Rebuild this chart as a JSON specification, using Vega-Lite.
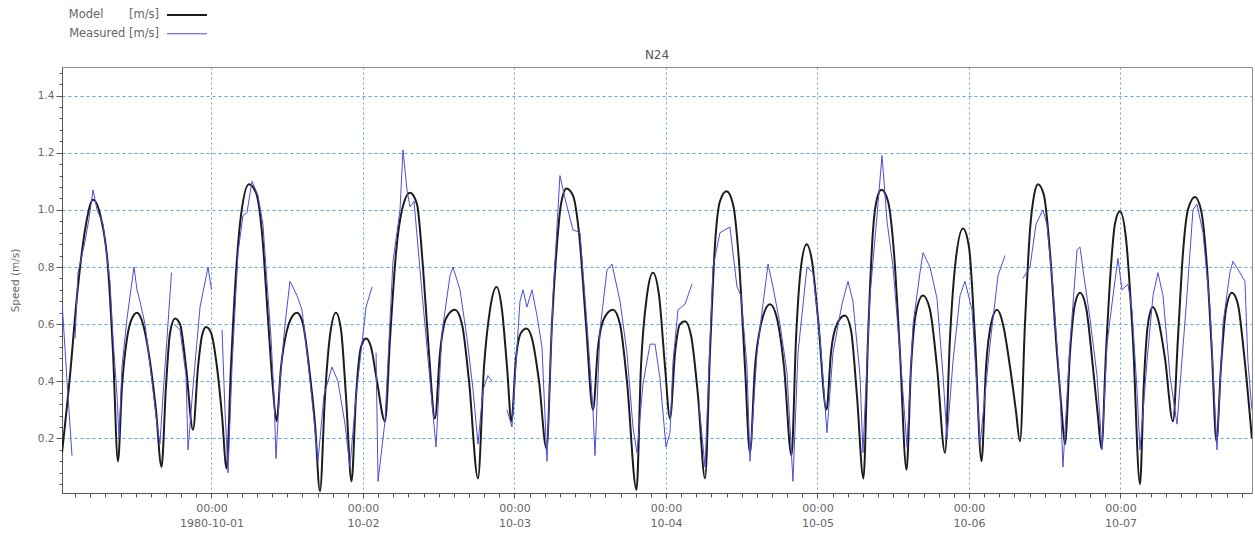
{
"$schema": "https://vega.github.io/schema/vega-lite/v6.json",
"width": 1190, "height": 426,
"autosize": "none",
"padding": {"left": 62, "top": 67, "right": 3, "bottom": 51},
"background": "white",
"config": {"view": {"stroke": "#8c8c8c", "strokeWidth": 1}, "font": "DejaVu Sans"},
"title": {"text": "N24", "fontSize": 12, "fontWeight": "normal", "color": "#555", "font": "DejaVu Sans", "offset": 7, "dy": 60, "frame": "group", "anchor": "middle"},
"data": {"values": [
{"t":"1980-09-30T00:19","v":0.15,"s":"Model","g":"M"},
{"t":"1980-09-30T01:35","v":0.42,"s":"Model","g":"M"},
{"t":"1980-09-30T02:42","v":0.70,"s":"Model","g":"M"},
{"t":"1980-09-30T03:58","v":0.93,"s":"Model","g":"M"},
{"t":"1980-09-30T05:14","v":1.035,"s":"Model","g":"M"},
{"t":"1980-09-30T06:30","v":0.97,"s":"Model","g":"M"},
{"t":"1980-09-30T07:36","v":0.80,"s":"Model","g":"M"},
{"t":"1980-09-30T08:24","v":0.50,"s":"Model","g":"M"},
{"t":"1980-09-30T09:11","v":0.12,"s":"Model","g":"M"},
{"t":"1980-09-30T09:49","v":0.38,"s":"Model","g":"M"},
{"t":"1980-09-30T10:37","v":0.55,"s":"Model","g":"M"},
{"t":"1980-09-30T11:24","v":0.62,"s":"Model","g":"M"},
{"t":"1980-09-30T12:12","v":0.64,"s":"Model","g":"M"},
{"t":"1980-09-30T13:09","v":0.60,"s":"Model","g":"M"},
{"t":"1980-09-30T14:15","v":0.47,"s":"Model","g":"M"},
{"t":"1980-09-30T15:12","v":0.30,"s":"Model","g":"M"},
{"t":"1980-09-30T16:05","v":0.10,"s":"Model","g":"M"},
{"t":"1980-09-30T16:47","v":0.38,"s":"Model","g":"M"},
{"t":"1980-09-30T17:26","v":0.57,"s":"Model","g":"M"},
{"t":"1980-09-30T18:13","v":0.62,"s":"Model","g":"M"},
{"t":"1980-09-30T19:01","v":0.60,"s":"Model","g":"M"},
{"t":"1980-09-30T19:58","v":0.45,"s":"Model","g":"M"},
{"t":"1980-09-30T21:04","v":0.23,"s":"Model","g":"M"},
{"t":"1980-09-30T21:52","v":0.45,"s":"Model","g":"M"},
{"t":"1980-09-30T22:30","v":0.56,"s":"Model","g":"M"},
{"t":"1980-09-30T23:08","v":0.59,"s":"Model","g":"M"},
{"t":"1980-09-30T23:55","v":0.57,"s":"Model","g":"M"},
{"t":"1980-10-01T00:52","v":0.45,"s":"Model","g":"M"},
{"t":"1980-10-01T01:40","v":0.28,"s":"Model","g":"M"},
{"t":"1980-10-01T02:23","v":0.095,"s":"Model","g":"M"},
{"t":"1980-10-01T03:05","v":0.45,"s":"Model","g":"M"},
{"t":"1980-10-01T03:53","v":0.78,"s":"Model","g":"M"},
{"t":"1980-10-01T04:40","v":0.98,"s":"Model","g":"M"},
{"t":"1980-10-01T05:56","v":1.09,"s":"Model","g":"M"},
{"t":"1980-10-01T07:03","v":1.06,"s":"Model","g":"M"},
{"t":"1980-10-01T08:00","v":0.92,"s":"Model","g":"M"},
{"t":"1980-10-01T08:57","v":0.62,"s":"Model","g":"M"},
{"t":"1980-10-01T09:45","v":0.37,"s":"Model","g":"M"},
{"t":"1980-10-01T10:18","v":0.26,"s":"Model","g":"M"},
{"t":"1980-10-01T11:01","v":0.45,"s":"Model","g":"M"},
{"t":"1980-10-01T11:58","v":0.58,"s":"Model","g":"M"},
{"t":"1980-10-01T12:36","v":0.62,"s":"Model","g":"M"},
{"t":"1980-10-01T13:33","v":0.64,"s":"Model","g":"M"},
{"t":"1980-10-01T14:30","v":0.60,"s":"Model","g":"M"},
{"t":"1980-10-01T15:27","v":0.45,"s":"Model","g":"M"},
{"t":"1980-10-01T16:24","v":0.25,"s":"Model","g":"M"},
{"t":"1980-10-01T17:11","v":0.015,"s":"Model","g":"M"},
{"t":"1980-10-01T17:59","v":0.35,"s":"Model","g":"M"},
{"t":"1980-10-01T18:46","v":0.56,"s":"Model","g":"M"},
{"t":"1980-10-01T19:43","v":0.64,"s":"Model","g":"M"},
{"t":"1980-10-01T20:31","v":0.58,"s":"Model","g":"M"},
{"t":"1980-10-01T21:18","v":0.35,"s":"Model","g":"M"},
{"t":"1980-10-01T22:11","v":0.05,"s":"Model","g":"M"},
{"t":"1980-10-01T22:54","v":0.35,"s":"Model","g":"M"},
{"t":"1980-10-01T23:41","v":0.52,"s":"Model","g":"M"},
{"t":"1980-10-02T00:29","v":0.55,"s":"Model","g":"M"},
{"t":"1980-10-02T01:16","v":0.52,"s":"Model","g":"M"},
{"t":"1980-10-02T02:13","v":0.40,"s":"Model","g":"M"},
{"t":"1980-10-02T03:29","v":0.26,"s":"Model","g":"M"},
{"t":"1980-10-02T04:17","v":0.55,"s":"Model","g":"M"},
{"t":"1980-10-02T05:14","v":0.85,"s":"Model","g":"M"},
{"t":"1980-10-02T06:11","v":1.00,"s":"Model","g":"M"},
{"t":"1980-10-02T07:27","v":1.06,"s":"Model","g":"M"},
{"t":"1980-10-02T08:33","v":1.02,"s":"Model","g":"M"},
{"t":"1980-10-02T09:30","v":0.80,"s":"Model","g":"M"},
{"t":"1980-10-02T10:27","v":0.50,"s":"Model","g":"M"},
{"t":"1980-10-02T11:24","v":0.27,"s":"Model","g":"M"},
{"t":"1980-10-02T12:12","v":0.50,"s":"Model","g":"M"},
{"t":"1980-10-02T13:09","v":0.62,"s":"Model","g":"M"},
{"t":"1980-10-02T14:34","v":0.65,"s":"Model","g":"M"},
{"t":"1980-10-02T15:41","v":0.60,"s":"Model","g":"M"},
{"t":"1980-10-02T16:48","v":0.40,"s":"Model","g":"M"},
{"t":"1980-10-02T18:13","v":0.06,"s":"Model","g":"M"},
{"t":"1980-10-02T19:10","v":0.45,"s":"Model","g":"M"},
{"t":"1980-10-02T20:07","v":0.65,"s":"Model","g":"M"},
{"t":"1980-10-02T21:09","v":0.73,"s":"Model","g":"M"},
{"t":"1980-10-02T22:01","v":0.65,"s":"Model","g":"M"},
{"t":"1980-10-02T22:49","v":0.45,"s":"Model","g":"M"},
{"t":"1980-10-02T23:31","v":0.26,"s":"Model","g":"M"},
{"t":"1980-10-03T00:14","v":0.48,"s":"Model","g":"M"},
{"t":"1980-10-03T01:02","v":0.57,"s":"Model","g":"M"},
{"t":"1980-10-03T01:54","v":0.585,"s":"Model","g":"M"},
{"t":"1980-10-03T02:46","v":0.55,"s":"Model","g":"M"},
{"t":"1980-10-03T03:53","v":0.40,"s":"Model","g":"M"},
{"t":"1980-10-03T05:04","v":0.165,"s":"Model","g":"M"},
{"t":"1980-10-03T05:56","v":0.60,"s":"Model","g":"M"},
{"t":"1980-10-03T06:44","v":0.88,"s":"Model","g":"M"},
{"t":"1980-10-03T07:22","v":1.02,"s":"Model","g":"M"},
{"t":"1980-10-03T08:14","v":1.075,"s":"Model","g":"M"},
{"t":"1980-10-03T09:16","v":1.05,"s":"Model","g":"M"},
{"t":"1980-10-03T10:13","v":0.92,"s":"Model","g":"M"},
{"t":"1980-10-03T11:20","v":0.60,"s":"Model","g":"M"},
{"t":"1980-10-03T12:26","v":0.30,"s":"Model","g":"M"},
{"t":"1980-10-03T13:14","v":0.52,"s":"Model","g":"M"},
{"t":"1980-10-03T14:11","v":0.62,"s":"Model","g":"M"},
{"t":"1980-10-03T15:36","v":0.65,"s":"Model","g":"M"},
{"t":"1980-10-03T16:43","v":0.60,"s":"Model","g":"M"},
{"t":"1980-10-03T17:49","v":0.40,"s":"Model","g":"M"},
{"t":"1980-10-03T19:20","v":0.02,"s":"Model","g":"M"},
{"t":"1980-10-03T20:02","v":0.45,"s":"Model","g":"M"},
{"t":"1980-10-03T20:59","v":0.70,"s":"Model","g":"M"},
{"t":"1980-10-03T21:56","v":0.78,"s":"Model","g":"M"},
{"t":"1980-10-03T22:54","v":0.70,"s":"Model","g":"M"},
{"t":"1980-10-03T23:51","v":0.45,"s":"Model","g":"M"},
{"t":"1980-10-04T00:38","v":0.27,"s":"Model","g":"M"},
{"t":"1980-10-04T01:26","v":0.50,"s":"Model","g":"M"},
{"t":"1980-10-04T02:13","v":0.60,"s":"Model","g":"M"},
{"t":"1980-10-04T03:01","v":0.61,"s":"Model","g":"M"},
{"t":"1980-10-04T03:58","v":0.56,"s":"Model","g":"M"},
{"t":"1980-10-04T05:04","v":0.35,"s":"Model","g":"M"},
{"t":"1980-10-04T06:11","v":0.06,"s":"Model","g":"M"},
{"t":"1980-10-04T06:58","v":0.50,"s":"Model","g":"M"},
{"t":"1980-10-04T07:46","v":0.88,"s":"Model","g":"M"},
{"t":"1980-10-04T08:33","v":1.03,"s":"Model","g":"M"},
{"t":"1980-10-04T09:35","v":1.065,"s":"Model","g":"M"},
{"t":"1980-10-04T10:37","v":1.02,"s":"Model","g":"M"},
{"t":"1980-10-04T11:34","v":0.82,"s":"Model","g":"M"},
{"t":"1980-10-04T12:31","v":0.45,"s":"Model","g":"M"},
{"t":"1980-10-04T13:18","v":0.15,"s":"Model","g":"M"},
{"t":"1980-10-04T14:06","v":0.45,"s":"Model","g":"M"},
{"t":"1980-10-04T15:03","v":0.60,"s":"Model","g":"M"},
{"t":"1980-10-04T16:29","v":0.67,"s":"Model","g":"M"},
{"t":"1980-10-04T17:35","v":0.62,"s":"Model","g":"M"},
{"t":"1980-10-04T18:42","v":0.45,"s":"Model","g":"M"},
{"t":"1980-10-04T19:53","v":0.14,"s":"Model","g":"M"},
{"t":"1980-10-04T20:36","v":0.55,"s":"Model","g":"M"},
{"t":"1980-10-04T21:23","v":0.80,"s":"Model","g":"M"},
{"t":"1980-10-04T22:16","v":0.88,"s":"Model","g":"M"},
{"t":"1980-10-04T23:08","v":0.82,"s":"Model","g":"M"},
{"t":"1980-10-05T00:05","v":0.62,"s":"Model","g":"M"},
{"t":"1980-10-05T01:26","v":0.30,"s":"Model","g":"M"},
{"t":"1980-10-05T02:08","v":0.50,"s":"Model","g":"M"},
{"t":"1980-10-05T03:05","v":0.60,"s":"Model","g":"M"},
{"t":"1980-10-05T04:21","v":0.63,"s":"Model","g":"M"},
{"t":"1980-10-05T05:18","v":0.58,"s":"Model","g":"M"},
{"t":"1980-10-05T06:15","v":0.35,"s":"Model","g":"M"},
{"t":"1980-10-05T07:17","v":0.06,"s":"Model","g":"M"},
{"t":"1980-10-05T08:00","v":0.55,"s":"Model","g":"M"},
{"t":"1980-10-05T08:48","v":0.93,"s":"Model","g":"M"},
{"t":"1980-10-05T09:26","v":1.04,"s":"Model","g":"M"},
{"t":"1980-10-05T10:08","v":1.07,"s":"Model","g":"M"},
{"t":"1980-10-05T11:10","v":1.03,"s":"Model","g":"M"},
{"t":"1980-10-05T12:07","v":0.85,"s":"Model","g":"M"},
{"t":"1980-10-05T13:04","v":0.50,"s":"Model","g":"M"},
{"t":"1980-10-05T14:06","v":0.09,"s":"Model","g":"M"},
{"t":"1980-10-05T14:49","v":0.45,"s":"Model","g":"M"},
{"t":"1980-10-05T15:36","v":0.64,"s":"Model","g":"M"},
{"t":"1980-10-05T16:43","v":0.70,"s":"Model","g":"M"},
{"t":"1980-10-05T17:49","v":0.65,"s":"Model","g":"M"},
{"t":"1980-10-05T18:56","v":0.45,"s":"Model","g":"M"},
{"t":"1980-10-05T20:12","v":0.15,"s":"Model","g":"M"},
{"t":"1980-10-05T20:59","v":0.55,"s":"Model","g":"M"},
{"t":"1980-10-05T21:47","v":0.80,"s":"Model","g":"M"},
{"t":"1980-10-05T23:03","v":0.935,"s":"Model","g":"M"},
{"t":"1980-10-06T00:00","v":0.87,"s":"Model","g":"M"},
{"t":"1980-10-06T00:57","v":0.55,"s":"Model","g":"M"},
{"t":"1980-10-06T01:59","v":0.12,"s":"Model","g":"M"},
{"t":"1980-10-06T02:42","v":0.45,"s":"Model","g":"M"},
{"t":"1980-10-06T03:29","v":0.60,"s":"Model","g":"M"},
{"t":"1980-10-06T04:26","v":0.65,"s":"Model","g":"M"},
{"t":"1980-10-06T05:23","v":0.60,"s":"Model","g":"M"},
{"t":"1980-10-06T06:30","v":0.45,"s":"Model","g":"M"},
{"t":"1980-10-06T07:25","v":0.30,"s":"Model","g":"M"},
{"t":"1980-10-06T08:05","v":0.19,"s":"Model","g":"M"},
{"t":"1980-10-06T08:52","v":0.60,"s":"Model","g":"M"},
{"t":"1980-10-06T09:40","v":0.93,"s":"Model","g":"M"},
{"t":"1980-10-06T10:18","v":1.05,"s":"Model","g":"M"},
{"t":"1980-10-06T10:56","v":1.09,"s":"Model","g":"M"},
{"t":"1980-10-06T11:53","v":1.05,"s":"Model","g":"M"},
{"t":"1980-10-06T12:50","v":0.85,"s":"Model","g":"M"},
{"t":"1980-10-06T13:56","v":0.50,"s":"Model","g":"M"},
{"t":"1980-10-06T14:40","v":0.30,"s":"Model","g":"M"},
{"t":"1980-10-06T15:12","v":0.18,"s":"Model","g":"M"},
{"t":"1980-10-06T16:00","v":0.50,"s":"Model","g":"M"},
{"t":"1980-10-06T16:47","v":0.67,"s":"Model","g":"M"},
{"t":"1980-10-06T17:35","v":0.71,"s":"Model","g":"M"},
{"t":"1980-10-06T18:32","v":0.66,"s":"Model","g":"M"},
{"t":"1980-10-06T19:38","v":0.45,"s":"Model","g":"M"},
{"t":"1980-10-06T20:25","v":0.28,"s":"Model","g":"M"},
{"t":"1980-10-06T20:59","v":0.165,"s":"Model","g":"M"},
{"t":"1980-10-06T21:42","v":0.50,"s":"Model","g":"M"},
{"t":"1980-10-06T22:29","v":0.80,"s":"Model","g":"M"},
{"t":"1980-10-06T23:07","v":0.95,"s":"Model","g":"M"},
{"t":"1980-10-06T23:55","v":0.995,"s":"Model","g":"M"},
{"t":"1980-10-07T00:52","v":0.90,"s":"Model","g":"M"},
{"t":"1980-10-07T01:58","v":0.55,"s":"Model","g":"M"},
{"t":"1980-10-07T03:05","v":0.04,"s":"Model","g":"M"},
{"t":"1980-10-07T03:43","v":0.40,"s":"Model","g":"M"},
{"t":"1980-10-07T04:21","v":0.60,"s":"Model","g":"M"},
{"t":"1980-10-07T05:08","v":0.66,"s":"Model","g":"M"},
{"t":"1980-10-07T05:56","v":0.62,"s":"Model","g":"M"},
{"t":"1980-10-07T07:03","v":0.48,"s":"Model","g":"M"},
{"t":"1980-10-07T08:19","v":0.26,"s":"Model","g":"M"},
{"t":"1980-10-07T09:06","v":0.55,"s":"Model","g":"M"},
{"t":"1980-10-07T09:54","v":0.85,"s":"Model","g":"M"},
{"t":"1980-10-07T10:41","v":1.00,"s":"Model","g":"M"},
{"t":"1980-10-07T11:48","v":1.045,"s":"Model","g":"M"},
{"t":"1980-10-07T12:45","v":1.00,"s":"Model","g":"M"},
{"t":"1980-10-07T13:42","v":0.80,"s":"Model","g":"M"},
{"t":"1980-10-07T14:29","v":0.50,"s":"Model","g":"M"},
{"t":"1980-10-07T15:12","v":0.19,"s":"Model","g":"M"},
{"t":"1980-10-07T15:55","v":0.45,"s":"Model","g":"M"},
{"t":"1980-10-07T16:42","v":0.65,"s":"Model","g":"M"},
{"t":"1980-10-07T17:39","v":0.71,"s":"Model","g":"M"},
{"t":"1980-10-07T18:36","v":0.67,"s":"Model","g":"M"},
{"t":"1980-10-07T19:33","v":0.50,"s":"Model","g":"M"},
{"t":"1980-10-07T20:49","v":0.20,"s":"Model","g":"M"},

{"t":"1980-09-30T00:19","v":0.68,"s":"Measured","g":"B1"},
{"t":"1980-09-30T01:07","v":0.40,"s":"Measured","g":"B1"},
{"t":"1980-09-30T01:54","v":0.14,"s":"Measured","g":"B1"},
{"t":"1980-09-30T02:23","v":0.55,"s":"Measured","g":"B2"},
{"t":"1980-09-30T02:51","v":0.78,"s":"Measured","g":"B2"},
{"t":"1980-09-30T03:58","v":0.89,"s":"Measured","g":"B2"},
{"t":"1980-09-30T04:36","v":0.97,"s":"Measured","g":"B2"},
{"t":"1980-09-30T05:14","v":1.07,"s":"Measured","g":"B2"},
{"t":"1980-09-30T05:52","v":1.00,"s":"Measured","g":"B2"},
{"t":"1980-09-30T06:49","v":0.95,"s":"Measured","g":"B2"},
{"t":"1980-09-30T07:55","v":0.75,"s":"Measured","g":"B2"},
{"t":"1980-09-30T08:24","v":0.55,"s":"Measured","g":"B2"},
{"t":"1980-09-30T09:02","v":0.35,"s":"Measured","g":"B2"},
{"t":"1980-09-30T09:21","v":0.20,"s":"Measured","g":"B2"},
{"t":"1980-09-30T09:49","v":0.45,"s":"Measured","g":"B2"},
{"t":"1980-09-30T10:37","v":0.62,"s":"Measured","g":"B2"},
{"t":"1980-09-30T11:43","v":0.80,"s":"Measured","g":"B2"},
{"t":"1980-09-30T12:12","v":0.72,"s":"Measured","g":"B2"},
{"t":"1980-09-30T12:40","v":0.68,"s":"Measured","g":"B2"},
{"t":"1980-09-30T13:28","v":0.60,"s":"Measured","g":"B2"},
{"t":"1980-09-30T14:34","v":0.40,"s":"Measured","g":"B2"},
{"t":"1980-09-30T15:22","v":0.25,"s":"Measured","g":"B2"},
{"t":"1980-09-30T15:50","v":0.18,"s":"Measured","g":"B2"},
{"t":"1980-09-30T16:19","v":0.35,"s":"Measured","g":"B2"},
{"t":"1980-09-30T16:57","v":0.55,"s":"Measured","g":"B2"},
{"t":"1980-09-30T17:40","v":0.78,"s":"Measured","g":"B2"},
{"t":"1980-09-30T18:04","v":0.60,"s":"Measured","g":"B3"},
{"t":"1980-09-30T19:01","v":0.58,"s":"Measured","g":"B3"},
{"t":"1980-09-30T19:58","v":0.42,"s":"Measured","g":"B3"},
{"t":"1980-09-30T20:17","v":0.16,"s":"Measured","g":"B3"},
{"t":"1980-09-30T21:04","v":0.38,"s":"Measured","g":"B3"},
{"t":"1980-09-30T22:11","v":0.66,"s":"Measured","g":"B3"},
{"t":"1980-09-30T23:27","v":0.80,"s":"Measured","g":"B3"},
{"t":"1980-10-01T00:00","v":0.72,"s":"Measured","g":"B3"},
{"t":"1980-10-01T01:40","v":0.58,"s":"Measured","g":"B4"},
{"t":"1980-10-01T02:08","v":0.30,"s":"Measured","g":"B4"},
{"t":"1980-10-01T02:37","v":0.08,"s":"Measured","g":"B4"},
{"t":"1980-10-01T03:15","v":0.45,"s":"Measured","g":"B4"},
{"t":"1980-10-01T04:12","v":0.85,"s":"Measured","g":"B4"},
{"t":"1980-10-01T04:59","v":0.98,"s":"Measured","g":"B4"},
{"t":"1980-10-01T05:37","v":0.99,"s":"Measured","g":"B4"},
{"t":"1980-10-01T06:25","v":1.10,"s":"Measured","g":"B4"},
{"t":"1980-10-01T07:22","v":1.05,"s":"Measured","g":"B4"},
{"t":"1980-10-01T08:09","v":0.95,"s":"Measured","g":"B4"},
{"t":"1980-10-01T08:47","v":0.75,"s":"Measured","g":"B4"},
{"t":"1980-10-01T09:26","v":0.55,"s":"Measured","g":"B4"},
{"t":"1980-10-01T09:54","v":0.35,"s":"Measured","g":"B4"},
{"t":"1980-10-01T10:13","v":0.13,"s":"Measured","g":"B4"},
{"t":"1980-10-01T10:51","v":0.40,"s":"Measured","g":"B4"},
{"t":"1980-10-01T11:39","v":0.60,"s":"Measured","g":"B4"},
{"t":"1980-10-01T12:26","v":0.75,"s":"Measured","g":"B4"},
{"t":"1980-10-01T13:33","v":0.70,"s":"Measured","g":"B4"},
{"t":"1980-10-01T14:20","v":0.65,"s":"Measured","g":"B4"},
{"t":"1980-10-01T15:08","v":0.50,"s":"Measured","g":"B4"},
{"t":"1980-10-01T16:05","v":0.30,"s":"Measured","g":"B4"},
{"t":"1980-10-01T16:52","v":0.12,"s":"Measured","g":"B4"},
{"t":"1980-10-01T17:49","v":0.35,"s":"Measured","g":"B4"},
{"t":"1980-10-01T19:05","v":0.45,"s":"Measured","g":"B4"},
{"t":"1980-10-01T20:02","v":0.40,"s":"Measured","g":"B4"},
{"t":"1980-10-01T21:09","v":0.25,"s":"Measured","g":"B4"},
{"t":"1980-10-01T21:56","v":0.10,"s":"Measured","g":"B4"},
{"t":"1980-10-01T22:54","v":0.35,"s":"Measured","g":"B4"},
{"t":"1980-10-01T23:31","v":0.47,"s":"Measured","g":"B4"},
{"t":"1980-10-02T00:29","v":0.66,"s":"Measured","g":"B4"},
{"t":"1980-10-02T01:26","v":0.73,"s":"Measured","g":"B4"},
{"t":"1980-10-02T02:04","v":0.50,"s":"Measured","g":"B5"},
{"t":"1980-10-02T02:23","v":0.05,"s":"Measured","g":"B5"},
{"t":"1980-10-02T03:29","v":0.26,"s":"Measured","g":"B5"},
{"t":"1980-10-02T04:45","v":0.82,"s":"Measured","g":"B5"},
{"t":"1980-10-02T05:52","v":1.00,"s":"Measured","g":"B5"},
{"t":"1980-10-02T06:20","v":1.21,"s":"Measured","g":"B5"},
{"t":"1980-10-02T06:58","v":1.07,"s":"Measured","g":"B5"},
{"t":"1980-10-02T07:27","v":1.01,"s":"Measured","g":"B5"},
{"t":"1980-10-02T08:05","v":1.03,"s":"Measured","g":"B5"},
{"t":"1980-10-02T08:43","v":0.87,"s":"Measured","g":"B5"},
{"t":"1980-10-02T09:21","v":0.71,"s":"Measured","g":"B5"},
{"t":"1980-10-02T10:08","v":0.52,"s":"Measured","g":"B5"},
{"t":"1980-10-02T11:34","v":0.17,"s":"Measured","g":"B5"},
{"t":"1980-10-02T12:31","v":0.57,"s":"Measured","g":"B5"},
{"t":"1980-10-02T13:47","v":0.77,"s":"Measured","g":"B5"},
{"t":"1980-10-02T14:15","v":0.80,"s":"Measured","g":"B5"},
{"t":"1980-10-02T15:22","v":0.72,"s":"Measured","g":"B5"},
{"t":"1980-10-02T16:29","v":0.55,"s":"Measured","g":"B5"},
{"t":"1980-10-02T17:26","v":0.37,"s":"Measured","g":"B5"},
{"t":"1980-10-02T18:13","v":0.18,"s":"Measured","g":"B5"},
{"t":"1980-10-02T19:01","v":0.37,"s":"Measured","g":"B5"},
{"t":"1980-10-02T19:48","v":0.42,"s":"Measured","g":"B5"},
{"t":"1980-10-02T20:26","v":0.40,"s":"Measured","g":"B5"},
{"t":"1980-10-02T22:49","v":0.30,"s":"Measured","g":"B6"},
{"t":"1980-10-02T23:36","v":0.24,"s":"Measured","g":"B6"},
{"t":"1980-10-03T00:24","v":0.52,"s":"Measured","g":"B6"},
{"t":"1980-10-03T00:52","v":0.68,"s":"Measured","g":"B6"},
{"t":"1980-10-03T01:21","v":0.72,"s":"Measured","g":"B6"},
{"t":"1980-10-03T01:59","v":0.66,"s":"Measured","g":"B6"},
{"t":"1980-10-03T02:46","v":0.72,"s":"Measured","g":"B6"},
{"t":"1980-10-03T03:34","v":0.63,"s":"Measured","g":"B6"},
{"t":"1980-10-03T04:21","v":0.52,"s":"Measured","g":"B6"},
{"t":"1980-10-03T05:09","v":0.12,"s":"Measured","g":"B6"},
{"t":"1980-10-03T06:06","v":0.70,"s":"Measured","g":"B6"},
{"t":"1980-10-03T07:12","v":1.12,"s":"Measured","g":"B6"},
{"t":"1980-10-03T08:00","v":1.04,"s":"Measured","g":"B6"},
{"t":"1980-10-03T09:16","v":0.93,"s":"Measured","g":"B6"},
{"t":"1980-10-03T10:23","v":0.92,"s":"Measured","g":"B6"},
{"t":"1980-10-03T11:29","v":0.60,"s":"Measured","g":"B6"},
{"t":"1980-10-03T12:26","v":0.30,"s":"Measured","g":"B6"},
{"t":"1980-10-03T12:45","v":0.14,"s":"Measured","g":"B6"},
{"t":"1980-10-03T13:33","v":0.58,"s":"Measured","g":"B6"},
{"t":"1980-10-03T14:39","v":0.79,"s":"Measured","g":"B6"},
{"t":"1980-10-03T15:27","v":0.81,"s":"Measured","g":"B6"},
{"t":"1980-10-03T16:43","v":0.68,"s":"Measured","g":"B6"},
{"t":"1980-10-03T17:49","v":0.50,"s":"Measured","g":"B6"},
{"t":"1980-10-03T18:46","v":0.24,"s":"Measured","g":"B6"},
{"t":"1980-10-03T19:24","v":0.15,"s":"Measured","g":"B6"},
{"t":"1980-10-03T20:21","v":0.39,"s":"Measured","g":"B6"},
{"t":"1980-10-03T21:28","v":0.53,"s":"Measured","g":"B6"},
{"t":"1980-10-03T22:16","v":0.53,"s":"Measured","g":"B6"},
{"t":"1980-10-03T23:03","v":0.41,"s":"Measured","g":"B6"},
{"t":"1980-10-04T00:00","v":0.17,"s":"Measured","g":"B6"},
{"t":"1980-10-04T00:38","v":0.22,"s":"Measured","g":"B6"},
{"t":"1980-10-04T01:07","v":0.47,"s":"Measured","g":"B6"},
{"t":"1980-10-04T01:54","v":0.65,"s":"Measured","g":"B6"},
{"t":"1980-10-04T03:01","v":0.67,"s":"Measured","g":"B6"},
{"t":"1980-10-04T04:07","v":0.74,"s":"Measured","g":"B6"},
{"t":"1980-10-04T05:14","v":0.32,"s":"Measured","g":"B7"},
{"t":"1980-10-04T06:11","v":0.10,"s":"Measured","g":"B7"},
{"t":"1980-10-04T07:27","v":0.80,"s":"Measured","g":"B7"},
{"t":"1980-10-04T08:33","v":0.92,"s":"Measured","g":"B7"},
{"t":"1980-10-04T10:08","v":0.94,"s":"Measured","g":"B7"},
{"t":"1980-10-04T11:15","v":0.73,"s":"Measured","g":"B7"},
{"t":"1980-10-04T11:53","v":0.70,"s":"Measured","g":"B7"},
{"t":"1980-10-04T12:50","v":0.45,"s":"Measured","g":"B7"},
{"t":"1980-10-04T13:18","v":0.12,"s":"Measured","g":"B7"},
{"t":"1980-10-04T14:25","v":0.50,"s":"Measured","g":"B7"},
{"t":"1980-10-04T15:22","v":0.67,"s":"Measured","g":"B7"},
{"t":"1980-10-04T16:10","v":0.81,"s":"Measured","g":"B7"},
{"t":"1980-10-04T16:57","v":0.73,"s":"Measured","g":"B7"},
{"t":"1980-10-04T18:04","v":0.60,"s":"Measured","g":"B7"},
{"t":"1980-10-04T19:10","v":0.43,"s":"Measured","g":"B7"},
{"t":"1980-10-04T20:07","v":0.05,"s":"Measured","g":"B7"},
{"t":"1980-10-04T20:55","v":0.50,"s":"Measured","g":"B7"},
{"t":"1980-10-04T22:20","v":0.80,"s":"Measured","g":"B7"},
{"t":"1980-10-04T23:17","v":0.78,"s":"Measured","g":"B7"},
{"t":"1980-10-05T00:24","v":0.55,"s":"Measured","g":"B7"},
{"t":"1980-10-05T01:30","v":0.22,"s":"Measured","g":"B7"},
{"t":"1980-10-05T02:27","v":0.50,"s":"Measured","g":"B7"},
{"t":"1980-10-05T03:53","v":0.67,"s":"Measured","g":"B7"},
{"t":"1980-10-05T04:50","v":0.75,"s":"Measured","g":"B7"},
{"t":"1980-10-05T05:37","v":0.68,"s":"Measured","g":"B7"},
{"t":"1980-10-05T06:44","v":0.42,"s":"Measured","g":"B7"},
{"t":"1980-10-05T07:12","v":0.15,"s":"Measured","g":"B7"},
{"t":"1980-10-05T08:19","v":0.70,"s":"Measured","g":"B7"},
{"t":"1980-10-05T09:26","v":0.98,"s":"Measured","g":"B7"},
{"t":"1980-10-05T10:13","v":1.19,"s":"Measured","g":"B7"},
{"t":"1980-10-05T11:01","v":0.96,"s":"Measured","g":"B7"},
{"t":"1980-10-05T11:58","v":0.80,"s":"Measured","g":"B7"},
{"t":"1980-10-05T13:04","v":0.50,"s":"Measured","g":"B7"},
{"t":"1980-10-05T14:11","v":0.17,"s":"Measured","g":"B7"},
{"t":"1980-10-05T15:08","v":0.60,"s":"Measured","g":"B7"},
{"t":"1980-10-05T16:14","v":0.78,"s":"Measured","g":"B7"},
{"t":"1980-10-05T16:43","v":0.85,"s":"Measured","g":"B7"},
{"t":"1980-10-05T17:49","v":0.80,"s":"Measured","g":"B7"},
{"t":"1980-10-05T18:56","v":0.69,"s":"Measured","g":"B7"},
{"t":"1980-10-05T19:53","v":0.42,"s":"Measured","g":"B7"},
{"t":"1980-10-05T20:31","v":0.20,"s":"Measured","g":"B7"},
{"t":"1980-10-05T21:28","v":0.47,"s":"Measured","g":"B7"},
{"t":"1980-10-05T22:35","v":0.70,"s":"Measured","g":"B7"},
{"t":"1980-10-05T23:22","v":0.75,"s":"Measured","g":"B7"},
{"t":"1980-10-06T00:29","v":0.65,"s":"Measured","g":"B7"},
{"t":"1980-10-06T01:16","v":0.37,"s":"Measured","g":"B7"},
{"t":"1980-10-06T01:45","v":0.18,"s":"Measured","g":"B7"},
{"t":"1980-10-06T03:20","v":0.53,"s":"Measured","g":"B7"},
{"t":"1980-10-06T04:36","v":0.77,"s":"Measured","g":"B7"},
{"t":"1980-10-06T05:42","v":0.84,"s":"Measured","g":"B7"},
{"t":"1980-10-06T08:33","v":0.76,"s":"Measured","g":"B8"},
{"t":"1980-10-06T09:40","v":0.80,"s":"Measured","g":"B8"},
{"t":"1980-10-06T10:37","v":0.95,"s":"Measured","g":"B8"},
{"t":"1980-10-06T11:43","v":1.00,"s":"Measured","g":"B8"},
{"t":"1980-10-06T12:21","v":0.95,"s":"Measured","g":"B8"},
{"t":"1980-10-06T13:18","v":0.73,"s":"Measured","g":"B8"},
{"t":"1980-10-06T14:25","v":0.37,"s":"Measured","g":"B8"},
{"t":"1980-10-06T14:53","v":0.10,"s":"Measured","g":"B8"},
{"t":"1980-10-06T16:00","v":0.53,"s":"Measured","g":"B8"},
{"t":"1980-10-06T17:07","v":0.86,"s":"Measured","g":"B8"},
{"t":"1980-10-06T17:35","v":0.87,"s":"Measured","g":"B8"},
{"t":"1980-10-06T18:04","v":0.79,"s":"Measured","g":"B8"},
{"t":"1980-10-06T19:10","v":0.62,"s":"Measured","g":"B8"},
{"t":"1980-10-06T20:17","v":0.42,"s":"Measured","g":"B8"},
{"t":"1980-10-06T21:04","v":0.16,"s":"Measured","g":"B8"},
{"t":"1980-10-06T21:52","v":0.53,"s":"Measured","g":"B8"},
{"t":"1980-10-06T22:49","v":0.70,"s":"Measured","g":"B8"},
{"t":"1980-10-06T23:36","v":0.83,"s":"Measured","g":"B8"},
{"t":"1980-10-07T00:14","v":0.72,"s":"Measured","g":"B8"},
{"t":"1980-10-07T01:11","v":0.74,"s":"Measured","g":"B8"},
{"t":"1980-10-07T01:49","v":0.65,"s":"Measured","g":"B8"},
{"t":"1980-10-07T02:37","v":0.37,"s":"Measured","g":"B8"},
{"t":"1980-10-07T03:05","v":0.16,"s":"Measured","g":"B8"},
{"t":"1980-10-07T04:12","v":0.47,"s":"Measured","g":"B8"},
{"t":"1980-10-07T05:09","v":0.70,"s":"Measured","g":"B8"},
{"t":"1980-10-07T05:56","v":0.78,"s":"Measured","g":"B8"},
{"t":"1980-10-07T06:44","v":0.70,"s":"Measured","g":"B8"},
{"t":"1980-10-07T07:50","v":0.42,"s":"Measured","g":"B8"},
{"t":"1980-10-07T08:57","v":0.25,"s":"Measured","g":"B8"},
{"t":"1980-10-07T10:32","v":0.70,"s":"Measured","g":"B8"},
{"t":"1980-10-07T11:29","v":1.00,"s":"Measured","g":"B8"},
{"t":"1980-10-07T12:07","v":1.02,"s":"Measured","g":"B8"},
{"t":"1980-10-07T13:04","v":0.92,"s":"Measured","g":"B8"},
{"t":"1980-10-07T14:10","v":0.66,"s":"Measured","g":"B8"},
{"t":"1980-10-07T15:17","v":0.16,"s":"Measured","g":"B8"},
{"t":"1980-10-07T16:14","v":0.60,"s":"Measured","g":"B8"},
{"t":"1980-10-07T17:20","v":0.78,"s":"Measured","g":"B8"},
{"t":"1980-10-07T17:49","v":0.82,"s":"Measured","g":"B8"},
{"t":"1980-10-07T18:55","v":0.78,"s":"Measured","g":"B8"},
{"t":"1980-10-07T19:43","v":0.75,"s":"Measured","g":"B8"},
{"t":"1980-10-07T20:11","v":0.47,"s":"Measured","g":"B8"},
{"t":"1980-10-07T20:49","v":0.30,"s":"Measured","g":"B8"}
]},
"encoding": {
  "x": {"field": "t", "type": "temporal",
    "scale": {"domain": [{"year":1980,"month":9,"date":30,"hours":0,"minutes":19},{"year":1980,"month":10,"date":7,"hours":20,"minutes":50}], "nice": false},
    "axis": {"title": null,
      "values": [
        {"year":1980,"month":9,"date":30,"hours":2,"minutes":24},{"year":1980,"month":9,"date":30,"hours":4,"minutes":48},{"year":1980,"month":9,"date":30,"hours":7,"minutes":12},{"year":1980,"month":9,"date":30,"hours":9,"minutes":36},{"year":1980,"month":9,"date":30,"hours":12,"minutes":0},{"year":1980,"month":9,"date":30,"hours":14,"minutes":24},{"year":1980,"month":9,"date":30,"hours":16,"minutes":48},{"year":1980,"month":9,"date":30,"hours":19,"minutes":12},{"year":1980,"month":9,"date":30,"hours":21,"minutes":36},
        {"year":1980,"month":10,"date":1,"hours":0,"minutes":0},{"year":1980,"month":10,"date":1,"hours":2,"minutes":24},{"year":1980,"month":10,"date":1,"hours":4,"minutes":48},{"year":1980,"month":10,"date":1,"hours":7,"minutes":12},{"year":1980,"month":10,"date":1,"hours":9,"minutes":36},{"year":1980,"month":10,"date":1,"hours":12,"minutes":0},{"year":1980,"month":10,"date":1,"hours":14,"minutes":24},{"year":1980,"month":10,"date":1,"hours":16,"minutes":48},{"year":1980,"month":10,"date":1,"hours":19,"minutes":12},{"year":1980,"month":10,"date":1,"hours":21,"minutes":36},
        {"year":1980,"month":10,"date":2,"hours":0,"minutes":0},{"year":1980,"month":10,"date":2,"hours":2,"minutes":24},{"year":1980,"month":10,"date":2,"hours":4,"minutes":48},{"year":1980,"month":10,"date":2,"hours":7,"minutes":12},{"year":1980,"month":10,"date":2,"hours":9,"minutes":36},{"year":1980,"month":10,"date":2,"hours":12,"minutes":0},{"year":1980,"month":10,"date":2,"hours":14,"minutes":24},{"year":1980,"month":10,"date":2,"hours":16,"minutes":48},{"year":1980,"month":10,"date":2,"hours":19,"minutes":12},{"year":1980,"month":10,"date":2,"hours":21,"minutes":36},
        {"year":1980,"month":10,"date":3,"hours":0,"minutes":0},{"year":1980,"month":10,"date":3,"hours":2,"minutes":24},{"year":1980,"month":10,"date":3,"hours":4,"minutes":48},{"year":1980,"month":10,"date":3,"hours":7,"minutes":12},{"year":1980,"month":10,"date":3,"hours":9,"minutes":36},{"year":1980,"month":10,"date":3,"hours":12,"minutes":0},{"year":1980,"month":10,"date":3,"hours":14,"minutes":24},{"year":1980,"month":10,"date":3,"hours":16,"minutes":48},{"year":1980,"month":10,"date":3,"hours":19,"minutes":12},{"year":1980,"month":10,"date":3,"hours":21,"minutes":36},
        {"year":1980,"month":10,"date":4,"hours":0,"minutes":0},{"year":1980,"month":10,"date":4,"hours":2,"minutes":24},{"year":1980,"month":10,"date":4,"hours":4,"minutes":48},{"year":1980,"month":10,"date":4,"hours":7,"minutes":12},{"year":1980,"month":10,"date":4,"hours":9,"minutes":36},{"year":1980,"month":10,"date":4,"hours":12,"minutes":0},{"year":1980,"month":10,"date":4,"hours":14,"minutes":24},{"year":1980,"month":10,"date":4,"hours":16,"minutes":48},{"year":1980,"month":10,"date":4,"hours":19,"minutes":12},{"year":1980,"month":10,"date":4,"hours":21,"minutes":36},
        {"year":1980,"month":10,"date":5,"hours":0,"minutes":0},{"year":1980,"month":10,"date":5,"hours":2,"minutes":24},{"year":1980,"month":10,"date":5,"hours":4,"minutes":48},{"year":1980,"month":10,"date":5,"hours":7,"minutes":12},{"year":1980,"month":10,"date":5,"hours":9,"minutes":36},{"year":1980,"month":10,"date":5,"hours":12,"minutes":0},{"year":1980,"month":10,"date":5,"hours":14,"minutes":24},{"year":1980,"month":10,"date":5,"hours":16,"minutes":48},{"year":1980,"month":10,"date":5,"hours":19,"minutes":12},{"year":1980,"month":10,"date":5,"hours":21,"minutes":36},
        {"year":1980,"month":10,"date":6,"hours":0,"minutes":0},{"year":1980,"month":10,"date":6,"hours":2,"minutes":24},{"year":1980,"month":10,"date":6,"hours":4,"minutes":48},{"year":1980,"month":10,"date":6,"hours":7,"minutes":12},{"year":1980,"month":10,"date":6,"hours":9,"minutes":36},{"year":1980,"month":10,"date":6,"hours":12,"minutes":0},{"year":1980,"month":10,"date":6,"hours":14,"minutes":24},{"year":1980,"month":10,"date":6,"hours":16,"minutes":48},{"year":1980,"month":10,"date":6,"hours":19,"minutes":12},{"year":1980,"month":10,"date":6,"hours":21,"minutes":36},
        {"year":1980,"month":10,"date":7,"hours":0,"minutes":0},{"year":1980,"month":10,"date":7,"hours":2,"minutes":24},{"year":1980,"month":10,"date":7,"hours":4,"minutes":48},{"year":1980,"month":10,"date":7,"hours":7,"minutes":12},{"year":1980,"month":10,"date":7,"hours":9,"minutes":36},{"year":1980,"month":10,"date":7,"hours":12,"minutes":0},{"year":1980,"month":10,"date":7,"hours":14,"minutes":24},{"year":1980,"month":10,"date":7,"hours":16,"minutes":48},{"year":1980,"month":10,"date":7,"hours":19,"minutes":12}
      ],
      "labelExpr": "(hours(datum.value) == 0 && minutes(datum.value) == 0) ? [timeFormat(datum.value, '%H:%M'), (date(datum.value) == 1 && month(datum.value) == 9) ? timeFormat(datum.value, '%Y-%m-%d') : timeFormat(datum.value, '%m-%d')] : ''",
      "labelFont": "DejaVu Sans", "labelFontSize": 11, "labelColor": "#666", "labelPadding": 4, "labelLineHeight": 15,
      "labelOverlap": false, "labelFlush": false, "labelBound": false,
      "tickColor": "#555", "domainColor": "#555",
      "tickSize": {"condition": {"test": "hours(datum.value) == 0 && minutes(datum.value) == 0", "value": 5}, "value": 4},
      "grid": true, "gridColor": "#4f9ad8", "gridDash": [2, 3], "gridWidth": 1,
      "gridOpacity": {"condition": {"test": "hours(datum.value) == 0 && minutes(datum.value) == 0", "value": 0.9}, "value": 0}
    }},
  "y": {"field": "v", "type": "quantitative",
    "scale": {"domain": [0.009, 1.5], "nice": false, "zero": false},
    "axis": {"title": "Speed (m/s)", "titleFont": "DejaVu Sans", "titleFontSize": 10.5, "titleFontWeight": "normal", "titleColor": "#666", "titlePadding": 17,
      "values": [0.04,0.08,0.12,0.16,0.2,0.24,0.28,0.32,0.36,0.4,0.44,0.48,0.52,0.56,0.6,0.64,0.68,0.72,0.76,0.8,0.84,0.88,0.92,0.96,1,1.04,1.08,1.12,1.16,1.2,1.24,1.28,1.32,1.36,1.4,1.44,1.48],
      "labelExpr": "abs(datum.value * 5 - round(datum.value * 5)) < 0.01 ? format(datum.value, '.1f') : ''",
      "labelFont": "DejaVu Sans", "labelFontSize": 10.5, "labelColor": "#666", "labelPadding": 2, "labelOverlap": false, "labelFlush": false,
      "tickColor": "#555", "domainColor": "#555",
      "tickSize": {"condition": {"test": "abs(datum.value * 5 - round(datum.value * 5)) < 0.01", "value": 6}, "value": 3},
      "grid": true, "gridColor": "#4f9ad8", "gridDash": [3, 3], "gridWidth": 1,
      "gridOpacity": {"condition": {"test": "abs(datum.value * 5 - round(datum.value * 5)) < 0.01", "value": 0.9}, "value": 0}
    }},
  "color": {"field": "s", "type": "nominal",
    "scale": {"domain": ["Model", "Measured"], "range": ["#1c1c1c", "#4e4ed8"]},
    "legend": {"title": null, "orient": "none", "legendX": 119, "legendY": -58, "symbolType": "M-4,0H4", "symbolSize": 100,
      "labelAlign": "right", "labelOffset": -34, "rowPadding": 6, "padding": 0,
      "labelFont": "DejaVu Sans", "labelFontSize": 11.5, "labelColor": "#666",
      "labelExpr": "datum.label == 'Model' ? 'Model\u00a0\u00a0\u00a0\u00a0\u00a0\u00a0 [m/s]' : 'Measured [m/s]'"}},
  "strokeWidth": {"field": "s", "type": "ordinal",
    "scale": {"domain": ["Model", "Measured"], "range": [2, 1]}},
  "detail": {"field": "g"}
},
"layer": [
  {"transform": [{"filter": "datum.s == 'Model'"}], "mark": {"type": "line", "clip": true, "interpolate": "monotone", "strokeJoin": "round"}},
  {"transform": [{"filter": "datum.s == 'Measured'"}], "mark": {"type": "line", "clip": true, "strokeJoin": "round"}}
]
}
